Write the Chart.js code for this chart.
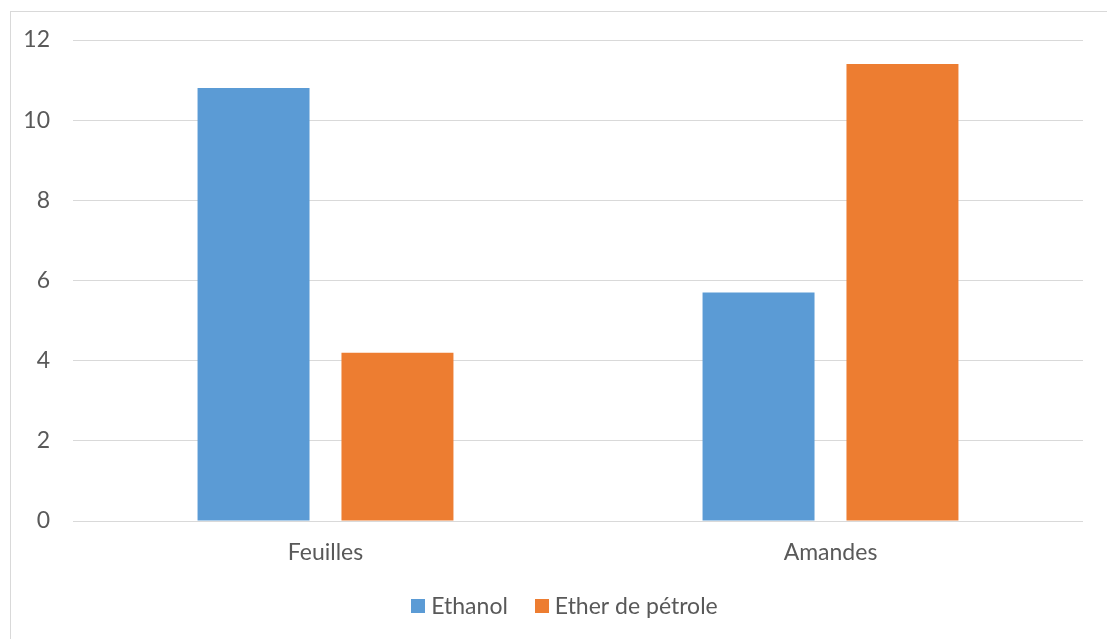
<!DOCTYPE html>
<html>
<head>
<meta charset="utf-8">
<script src="https://cdn.jsdelivr.net/npm/chart.js@4/dist/chart.umd.min.js"></script>
<style>
  html, body { margin: 0; padding: 0; background: #ffffff; }
  #wrap { position: relative; width: 1107px; height: 639px; }
</style>
</head>
<body>
<div id="wrap"><canvas id="c" width="1107" height="639"></canvas></div>
<script>
// Extraction yields by solvent
const categories = ['Feuilles', 'Amandes'];
const ethanol = [10.8, 5.7];
const etherPetrole = [4.2, 11.4];
const seriesNames = ['Ethanol', 'Ether de pétrole'];
const yTicks = [0, 2, 4, 6, 8, 10, 12];

const textColor = '#595959';
const gridColor = '#d9d9d9';
const font = { family: 'Lato', size: 23 };

// light outer frame around the chart
const framePlugin = {
  id: 'frame',
  beforeDraw(chart) {
    const ctx = chart.ctx;
    ctx.save();
    ctx.fillStyle = '#ffffff';
    ctx.fillRect(0, 0, chart.width, chart.height);
    ctx.strokeStyle = gridColor;
    ctx.lineWidth = 1;
    ctx.strokeRect(10.5, 11.5, chart.width + 20, chart.height + 20);
    ctx.restore();
  }
};

// compact legend row under the x axis: square swatch, small gap, label
const legendRow = {
  id: 'legendRow',
  afterDraw(chart) {
    const ctx = chart.ctx;
    const box = 14, gap = 6, itemGap = 27;
    const y = 606;
    ctx.save();
    ctx.font = `${font.size}px ${font.family}`;
    const items = chart.data.datasets.map(ds => ({
      text: ds.label, color: ds.backgroundColor, w: ctx.measureText(ds.label).width
    }));
    const total = items.reduce((s, it) => s + box + gap + it.w, 0) + itemGap * (items.length - 1);
    let x = chart.width / 2 + 11 - total / 2;
    ctx.textBaseline = 'middle';
    ctx.textAlign = 'left';
    items.forEach(it => {
      ctx.fillStyle = it.color;
      ctx.fillRect(Math.round(x), y - box / 2, box, box);
      ctx.fillStyle = textColor;
      ctx.fillText(it.text, x + box + gap, y + 1);
      x += box + gap + it.w + itemGap;
    });
    ctx.restore();
  }
};

new Chart(document.getElementById('c'), {
  type: 'bar',
  data: {
    labels: categories,
    datasets: [
      { label: seriesNames[0], data: ethanol, backgroundColor: '#5B9BD5',
        categoryPercentage: 0.57, barPercentage: 0.778 },
      { label: seriesNames[1], data: etherPetrole, backgroundColor: '#ED7D31',
        categoryPercentage: 0.57, barPercentage: 0.778 }
    ]
  },
  options: {
    responsive: false,
    animation: false,
    layout: { padding: { top: 40, right: 24, bottom: 54, left: 0 } },
    plugins: {
      tooltip: { enabled: false },
      legend: { display: false }
    },
    scales: {
      x: {
        grid: { display: false },
        border: { display: false },
        ticks: { color: textColor, font: font, padding: 10 },
        afterFit(scale) { scale.height = 64; }
      },
      y: {
        min: 0,
        max: 12,
        afterBuildTicks(scale) { scale.ticks = yTicks.map(v => ({ value: v })); },
        grid: { color: gridColor, lineWidth: 1, drawTicks: false },
        border: { display: false },
        ticks: { color: textColor, font: font, padding: 23 },
        afterFit(scale) { scale.width = 73; }
      }
    }
  },
  plugins: [framePlugin, legendRow]
});
</script>
</body>
</html>
